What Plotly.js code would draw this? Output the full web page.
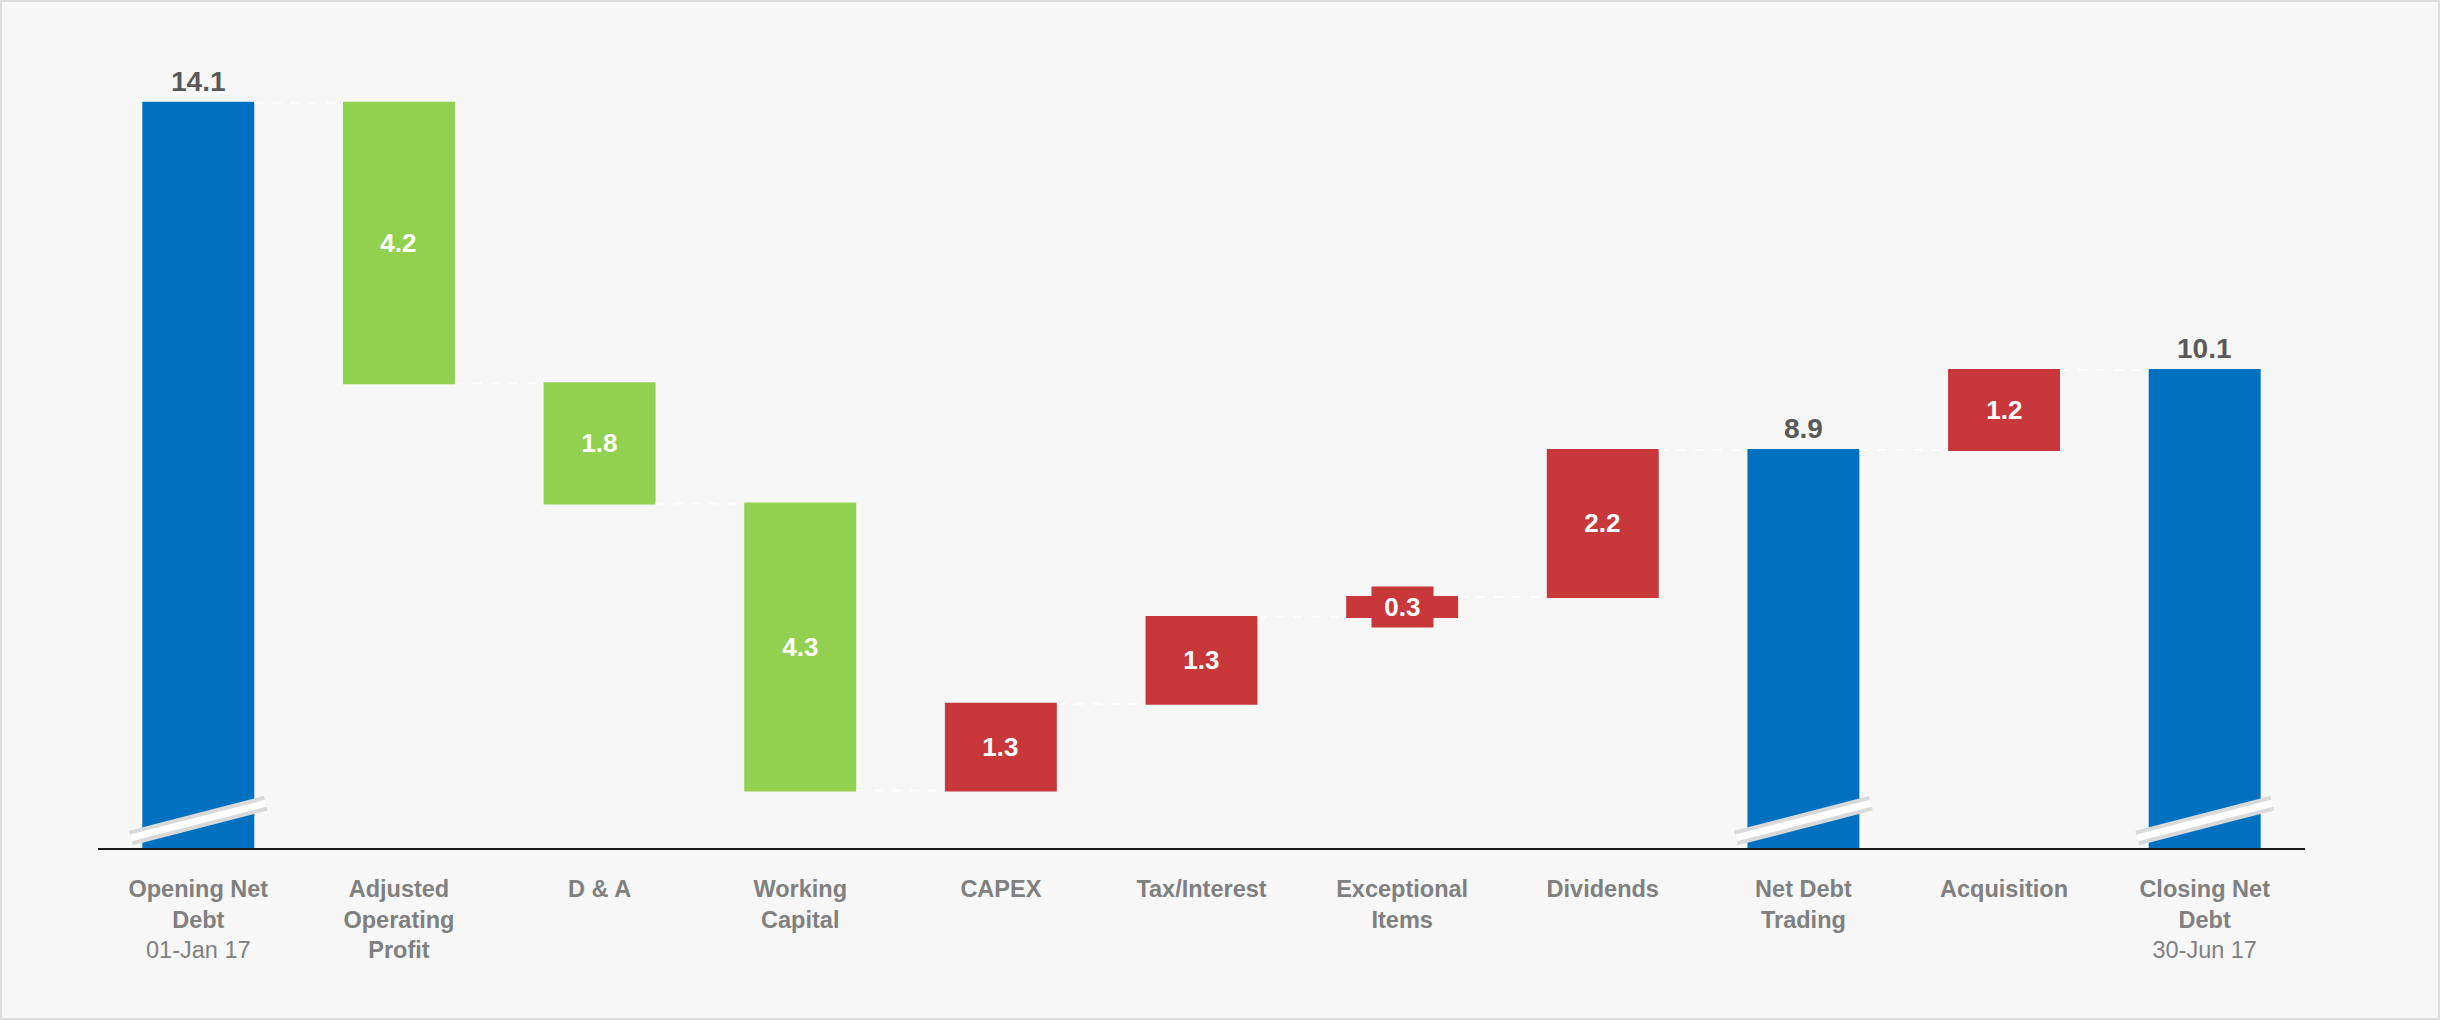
<!DOCTYPE html>
<html>
<head>
<meta charset="utf-8">
<script src="https://cdn.plot.ly/plotly-3.0.1.min.js"></script>
<style>
  html, body { margin: 0; padding: 0; background: #f7f7f7; }
  #chart { width: 2440px; height: 1020px; }
  #frame { position: absolute; left: 0; top: 0; width: 2440px; height: 1020px; box-sizing: border-box; border: 2px solid #dddddd; pointer-events: none; }
</style>
</head>
<body>
<div id="chart"></div>
<div id="frame"></div>
<script>
// ---- data ----
const categories = ["Opening Net Debt", "Adjusted Operating Profit", "D & A", "Working Capital", "CAPEX",
  "Tax/Interest", "Exceptional Items", "Dividends", "Net Debt Trading", "Acquisition", "Closing Net Debt"];
const measures = ["absolute", "relative", "relative", "relative", "relative", "relative", "relative", "relative", "total", "relative", "total"];
const values = [14.1, -4.2, -1.8, -4.3, 1.3, 1.3, 0.3, 2.2, 0, 1.2, 0];
const tickLabels = [
  "<b>Opening Net</b><br><b>Debt</b><br>01-Jan 17",
  "<b>Adjusted</b><br><b>Operating</b><br><b>Profit</b>",
  "<b>D &amp; A</b>",
  "<b>Working</b><br><b>Capital</b>",
  "<b>CAPEX</b>",
  "<b>Tax/Interest</b>",
  "<b>Exceptional</b><br><b>Items</b>",
  "<b>Dividends</b>",
  "<b>Net Debt</b><br><b>Trading</b>",
  "<b>Acquisition</b>",
  "<b>Closing Net</b><br><b>Debt</b><br>30-Jun 17"
];
const breakBars = ["Opening Net Debt", "Net Debt Trading", "Closing Net Debt"];

// ---- styles ----
const BLUE = "#0070C0", GREEN = "#92D050", RED = "#C8373A";
const FONT = "'Liberation Sans', Arial, sans-serif";
const yMin = 2.94, yMax = 15.04;

// running levels for labels
let level = 0;
const annotations = [];
categories.forEach((c, i) => {
  const m = measures[i];
  if (m === "absolute" || m === "total") {
    if (m === "absolute") level = values[i];
    annotations.push({x: c, y: level, yanchor: "bottom", yshift: 4, showarrow: false,
      text: "<b>" + level.toFixed(1) + "</b>", font: {family: FONT, size: 28, color: "#595959"}});
  } else {
    const start = level;
    level = level + values[i];
    const col = values[i] < 0 ? GREEN : RED;
    annotations.push({x: c, y: (start + level) / 2, yanchor: "middle", showarrow: false,
      text: "&nbsp;<b>" + Math.abs(values[i]).toFixed(1) + "</b>&nbsp;",
      bgcolor: col, borderpad: 5, font: {family: FONT, size: 26, color: "#ffffff"}});
  }
});

// axis break marks on the total bars
const shapes = [];
breakBars.forEach(c => {
  const i = categories.indexOf(c);
  [{w: 15, col: "#d9d9d9"}, {w: 7, col: "#ffffff"}].forEach(s => {
    shapes.push({type: "line", xref: "x", yref: "y", layer: "above",
      x0: i - 0.336, x1: i + 0.336, y0: yMin + 0.15, y1: yMin + 0.67,
      line: {color: s.col, width: s.w}});
  });
});

const trace = {
  type: "waterfall",
  x: categories,
  y: values,
  measure: measures,
  width: 0.558,
  textinfo: "none",
  hoverinfo: "skip",
  increasing: {marker: {color: RED}},
  decreasing: {marker: {color: GREEN}},
  totals: {marker: {color: BLUE}},
  connector: {mode: "between", line: {color: "#ffffff", width: 2, dash: "dash"}}
};

const layout = {
  width: 2440, height: 1020,
  margin: {l: 98, r: 135, t: 40, b: 172},
  paper_bgcolor: "#f7f7f7",
  plot_bgcolor: "#f7f7f7",
  showlegend: false,
  font: {family: FONT},
  xaxis: {
    type: "category",
    tickmode: "array", tickvals: categories, ticktext: tickLabels,
    showline: true, linecolor: "#1a1a1a", linewidth: 2,
    showgrid: false, zeroline: false, ticks: "",
    ticklabelstandoff: 19,
    tickfont: {family: FONT, size: 23.5, color: "#808080"}
  },
  yaxis: {
    range: [yMin, yMax], visible: false, showgrid: false, zeroline: false, fixedrange: true
  },
  annotations: annotations,
  shapes: shapes
};

Plotly.newPlot("chart", [trace], layout, {displayModeBar: false, staticPlot: true});
</script>
</body>
</html>
